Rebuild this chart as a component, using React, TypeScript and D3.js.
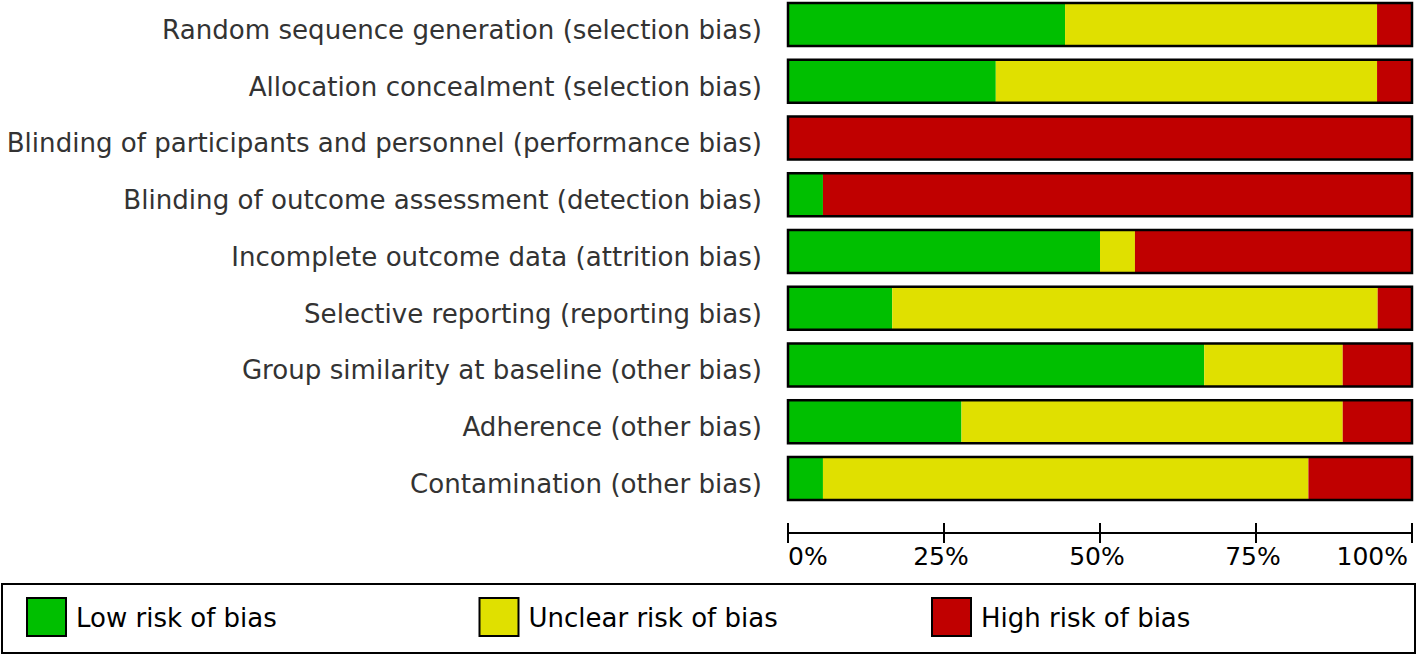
import { useEffect, useRef } from 'react';
import * as d3 from 'd3';

const domains = [
  'Random sequence generation (selection bias)',
  'Allocation concealment (selection bias)',
  'Blinding of participants and personnel (performance bias)',
  'Blinding of outcome assessment (detection bias)',
  'Incomplete outcome data (attrition bias)',
  'Selective reporting (reporting bias)',
  'Group similarity at baseline (other bias)',
  'Adherence (other bias)',
  'Contamination (other bias)',
];

// percent of studies per judgement
const lowRisk = [44.4, 33.3, 0, 5.6, 50, 16.7, 66.7, 27.8, 5.6];
const unclearRisk = [50, 61.1, 0, 0, 5.6, 77.8, 22.2, 61.1, 77.8];
const highRisk = [5.6, 5.6, 100, 94.4, 44.4, 5.5, 11.1, 11.1, 16.6];

const axisTicks = [0, 25, 50, 75, 100];
const legendLabels = ['Low risk of bias', 'Unclear risk of bias', 'High risk of bias'];
const colors = ['#00bf00', '#e0e000', '#c00000'];

export default function App() {
  const svgRef = useRef<SVGSVGElement>(null);
  const width = 1418;
  const height = 657;

  useEffect(() => {
    const svg = d3.select(svgRef.current);
    svg.selectAll('*').remove();

    const x = d3.scaleLinear().domain([0, 100]).range([788, 1412]);
    const y = d3.scaleBand<string>()
      .domain(domains)
      .range([3, 500])
      .paddingInner(0.242)
      .paddingOuter(0)
      .align(0);

    const rows = domains.map((d, i) => ({
      name: d,
      parts: [lowRisk[i], unclearRisk[i], highRisk[i]],
    }));

    const stack = rows.map(r => {
      let acc = 0;
      return r.parts.map((v, k) => {
        const s = { x0: acc, x1: acc + v, k, name: r.name };
        acc += v;
        return s;
      });
    });

    // labels
    svg.append('g')
      .selectAll('text')
      .data(domains)
      .join('text')
      .attr('x', 762)
      .attr('y', d => y(d)! + 36)
      .attr('text-anchor', 'end')
      .attr('font-family', 'DejaVu Sans')
      .attr('font-size', 26.1)
      .attr('fill', '#333')
      .text(d => d);

    // bars
    const bars = svg.append('g');
    stack.forEach(segs => {
      bars.selectAll(null)
        .data(segs.filter(s => s.x1 > s.x0))
        .join('rect')
        .attr('x', s => x(s.x0))
        .attr('y', s => y(s.name)!)
        .attr('width', s => x(Math.min(100, s.x1)) - x(s.x0))
        .attr('height', y.bandwidth())
        .attr('fill', s => colors[s.k]);
    });
    bars.selectAll('.outline')
      .data(domains)
      .join('rect')
      .attr('class', 'outline')
      .attr('x', x(0))
      .attr('y', d => y(d)!)
      .attr('width', x(100) - x(0))
      .attr('height', y.bandwidth())
      .attr('fill', 'none')
      .attr('stroke', '#000')
      .attr('stroke-width', 2.5);

    // axis
    const ax = svg.append('g');
    ax.append('line')
      .attr('x1', x(0)).attr('x2', x(100))
      .attr('y1', 533).attr('y2', 533)
      .attr('stroke', '#000').attr('stroke-width', 2);
    ax.selectAll('.tick')
      .data(axisTicks)
      .join('line')
      .attr('x1', d => x(d)).attr('x2', d => x(d))
      .attr('y1', 523).attr('y2', 543)
      .attr('stroke', '#000').attr('stroke-width', 2);
    ax.selectAll('text')
      .data(axisTicks)
      .join('text')
      .attr('x', (d, i) => x(d) - (i === axisTicks.length - 1 ? 4 : i === 0 ? 0 : 3))
      .attr('y', 565)
      .attr('text-anchor', (d, i) => (i === 0 ? 'start' : i === axisTicks.length - 1 ? 'end' : 'middle'))
      .attr('font-family', 'DejaVu Sans')
      .attr('font-size', 25)
      .attr('fill', '#000')
      .text(d => `${d}%`);

    // legend
    const lg = svg.append('g');
    lg.append('rect')
      .attr('x', 2).attr('y', 584)
      .attr('width', 1413).attr('height', 69)
      .attr('fill', '#fff')
      .attr('stroke', '#000').attr('stroke-width', 2);
    const lx = d3.scaleLinear().domain([0, 1]).range([27, 479.5]);
    const items = lg.selectAll('.item')
      .data(legendLabels)
      .join('g')
      .attr('class', 'item')
      .attr('transform', (d, i) => `translate(${lx(i)},598)`);
    items.append('rect')
      .attr('width', 39).attr('height', 38)
      .attr('fill', (d, i) => colors[i])
      .attr('stroke', '#000').attr('stroke-width', 2);
    items.append('text')
      .attr('x', 49)
      .attr('y', 29)
      .attr('font-family', 'DejaVu Sans')
      .attr('font-size', 26)
      .attr('fill', '#000')
      .text(d => d);
  }, []);

  return (
    <div style={{ position: 'absolute', left: 0, top: 0 }}>
      <svg ref={svgRef} width={width} height={height} style={{ display: 'block', background: '#fff' }} />
    </div>
  );
}
